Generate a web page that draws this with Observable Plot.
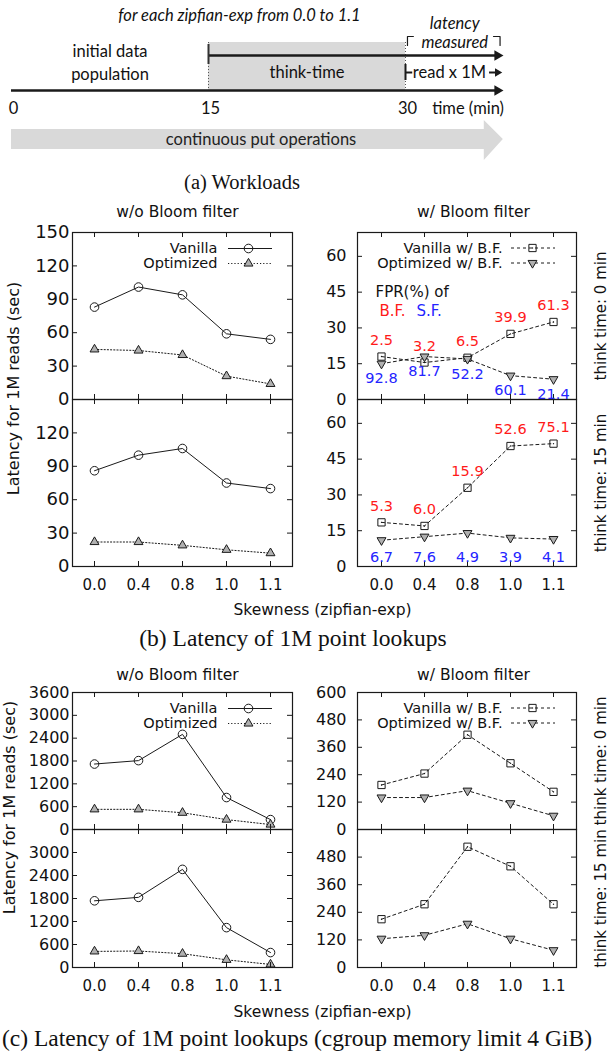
<!DOCTYPE html>
<html><head><meta charset="utf-8">
<script src="https://cdn.jsdelivr.net/npm/d3@7"></script>
<script src="https://cdn.jsdelivr.net/npm/@observablehq/plot@0.6"></script>
<style>
body{margin:0;background:#fff;}
#fig{position:relative;width:609px;height:1058px;overflow:hidden;font-family:"DejaVu Sans";background:#fff;}
.cap{position:absolute;font-family:"Liberation Serif";white-space:nowrap;transform:translate(-50%,-50%);color:#111;}
</style></head><body><div id="fig"></div>
<script>
// ---------- data ----------
const skew = ["0.0", "0.4", "0.8", "1.0", "1.1"];

// (b) Latency of 1M point lookups (sec)
const bNoBF0Vanilla = [83, 101, 94, 59, 54];
const bNoBF0Opt = [45, 44, 40, 21, 14];
const bNoBF15Vanilla = [86, 100, 106, 75, 70];
const bNoBF15Opt = [22, 22, 19, 15, 12];
const bBF0Vanilla = [18, 15.5, 17.5, 27.5, 32.5];
const bBF0Opt = [15, 18, 17, 10, 8.5];
const bBF15Vanilla = [18.5, 17, 33, 50.5, 51.5];
const bBF15Opt = [11, 12.5, 14, 12, 11.5];
const fprBF0 = ["2.5", "3.2", "6.5", "39.9", "61.3"];
const fprSF0 = ["92.8", "81.7", "52.2", "60.1", "21.4"];
const fprBF15 = ["5.3", "6.0", "15.9", "52.6", "75.1"];
const fprSF15 = ["6.7", "7.6", "4.9", "3.9", "4.1"];

// (c) cgroup memory limit 4 GiB (sec)
const cNoBF0Vanilla = [1720, 1810, 2500, 840, 260];
const cNoBF0Opt = [530, 530, 440, 260, 130];
const cNoBF15Vanilla = [1740, 1830, 2560, 1040, 390];
const cNoBF15Opt = [420, 430, 360, 200, 80];
const cBF0Vanilla = [195, 245, 415, 290, 165];
const cBF0Opt = [140, 140, 170, 115, 60];
const cBF15Vanilla = [210, 275, 525, 440, 275];
const cBF15Opt = [125, 140, 190, 125, 75];

// tick values
const ticksB0 = [0, 30, 60, 90, 120, 150];
const ticksB15 = [0, 30, 60, 90, 120];
const ticksBF = [0, 15, 30, 45, 60];
const ticksC0 = [0, 600, 1200, 1800, 2400, 3000, 3600];
const ticksC15 = [0, 600, 1200, 1800, 2400, 3000];
const ticksCBF0 = [0, 120, 240, 360, 480, 600];
const ticksCBF15 = [0, 120, 240, 360, 480];

// workload diagram (a)
const phases = [
  {name: "initial data\npopulation", start: 0, end: 15},
  {name: "think-time", start: 15, end: 30}
];
const timeTicks = [0, 15, 30];
const timeEnd = 37;      // arrow tip (beyond 30 min)
const measureEnd = 37.5;

// ---------- helpers ----------
const fig = document.getElementById("fig");
function place(el, left, top) {
  el.style.position = "absolute";
  el.style.left = left + "px";
  el.style.top = top + "px";
  fig.appendChild(el);
}
function rows(values, labels) {
  return skew.map((s, i) => ({skew: s, value: values[i], label: labels ? labels[i] : ""}));
}
const INK = "#1a1a1a";
const baseStyle = {overflow: "visible", background: "transparent", fontFamily: "DejaVu Sans", color: "#111"};

const colL = {left: 0, width: 300, mL: 72, mR: 8, tickPad: 3, legText: 145, legLineL: 156, legLineR: 20, legDot: 176};
const colR = {left: 300, width: 309, mL: 57, mR: 33, tickPad: 11, legText: 145, legLineL: 154, legLineR: 21, legDot: 175};

function panel(c) {
  const fw = c.width - c.mL - c.mR;
  const h = c.h;
  const V = rows(c.vanilla, c.fprBF);
  const O = rows(c.opt, c.fprSF);
  const dashV = c.bf ? "3,3" : null;
  const dashO = c.bf ? "3,3" : "1.2,2";
  const marks = [];
  marks.push(Plot.line(V, {x: "skew", y: "value", stroke: INK, strokeWidth: 1, strokeDasharray: dashV}));
  marks.push(Plot.line(O, {x: "skew", y: "value", stroke: INK, strokeWidth: 1, strokeDasharray: dashO}));
  const vMark = (data, extra = {}) => c.bf
    ? [Plot.dot(data, {symbol: "square", r: 4.1, stroke: INK, fill: "none", strokeWidth: 1, ...extra}),
       Plot.dot(data, {r: 0.7, fill: INK, stroke: "none", ...extra})]
    : [Plot.dot(data, {symbol: "circle", r: 4.3, stroke: INK, fill: "none", strokeWidth: 1, ...extra})];
  const oMark = (data, extra = {}) => [Plot.dot(data, {symbol: "triangle", rotate: c.bf ? 180 : 0, r: 3.3, stroke: INK, fill: "#b0b0b0", strokeWidth: 1, ...extra})];
  marks.push(...vMark(V, {x: "skew", y: "value"}));
  marks.push(...oMark(O, {x: "skew", y: "value"}));
  // frame and inward ticks
  marks.push(Plot.frame({stroke: INK, strokeWidth: 1.2}));
  marks.push(Plot.tickY(c.ticks, {insetRight: fw - 5, stroke: INK}));
  marks.push(Plot.tickY(c.ticks, {insetLeft: fw - 5, stroke: INK}));
  marks.push(Plot.tickX(skew, {insetTop: h - 5, stroke: INK}));
  marks.push(Plot.tickX(skew, {insetBottom: h - 5, stroke: INK}));
  marks.push(Plot.axisY(c.ticks, {tickSize: 0, tickPadding: c.tickPad, fontSize: c.tickFont, label: null, tickFormat: d => String(d)}));
  if (c.showX) {
    marks.push(Plot.axisX(skew, {tickSize: 0, tickPadding: 13, fontSize: 15, label: null}));
    if (c.skewLabel) marks.push(Plot.text(["Skewness (zipfian-exp)"], {frameAnchor: "bottom-left", dx: 250, dy: c.skewDy, textAnchor: "middle", lineAnchor: "middle", fontSize: 15.5}));
  }
  if (c.title) marks.push(Plot.text([c.title], {frameAnchor: "top-left", dx: c.titleDx, dy: c.titleDy, textAnchor: "middle", lineAnchor: "middle", fontSize: 15.5}));
  if (c.ylab) marks.push(Plot.text(["Latency for 1M reads (sec)"], {frameAnchor: "top-left", dx: c.ylab.dx, dy: c.ylab.dy, rotate: -90, textAnchor: "middle", lineAnchor: "middle", fontSize: 16}));
  if (c.think) marks.push(Plot.text([c.think], {frameAnchor: "right", dx: 25, rotate: -90, textAnchor: "middle", lineAnchor: "middle", fontSize: 15}));
  if (c.legend) {
    const names = c.bf ? ["Vanilla w/ B.F.", "Optimized w/ B.F."] : ["Vanilla", "Optimized"];
    const dys = c.bf ? [15.5, 30.5] : [16, 31];
    names.forEach((n, k) => {
      marks.push(Plot.text([n], {frameAnchor: "top-left", dx: c.legText, dy: dys[k], textAnchor: "end", lineAnchor: "middle", fontSize: 14.5}));
      marks.push(Plot.ruleY([0], {y: null, insetLeft: c.legLineL, insetRight: c.legLineR, dy: dys[k] - h / 2, stroke: INK, strokeWidth: 1, strokeDasharray: k === 0 ? dashV : dashO}));
      const extra = {frameAnchor: "top-left", dx: c.legDot, dy: dys[k]};
      marks.push(...(k === 0 ? vMark([0], extra) : oMark([0], extra)));
    });
  }
  if (c.fprLegend) {
    marks.push(Plot.text(["FPR(%) of"], {frameAnchor: "top-left", dx: 18, dy: 60, textAnchor: "start", lineAnchor: "middle", fontSize: 15}));
    marks.push(Plot.text(["B.F."], {frameAnchor: "top-left", dx: 22, dy: 79, textAnchor: "start", lineAnchor: "middle", fontSize: 15, fill: "#ff1a1a"}));
    marks.push(Plot.text(["S.F."], {frameAnchor: "top-left", dx: 59, dy: 79, textAnchor: "start", lineAnchor: "middle", fontSize: 15, fill: "#2424ff"}));
  }
  if (c.fprBF) {
    marks.push(Plot.text(V, {x: "skew", y: "value", text: "label", dy: -16.5, fill: "#ff1a1a", fontSize: 14.5, lineAnchor: "middle"}));
    if (c.sfBottom) marks.push(Plot.text(O, {x: "skew", frameAnchor: "bottom", text: "label", dy: -9, fill: "#2424ff", fontSize: 14.5, lineAnchor: "middle"}));
    else marks.push(Plot.text(O, {x: "skew", y: "value", text: "label", dy: 15, fill: "#2424ff", fontSize: 14.5, lineAnchor: "middle"}));
  }
  const svg = Plot.plot({
    width: c.width, height: h,
    marginTop: 0, marginBottom: 0, marginLeft: c.mL, marginRight: c.mR,
    x: {type: "point", domain: skew, padding: 0.5, axis: null, label: null},
    y: {domain: [0, c.yMax], axis: null, label: null},
    style: baseStyle,
    marks
  });
  place(svg, c.left, c.top);
}

// ---------- (a) workload diagram ----------
const row = {title: 15, latency: 31.5, bracketTop: 36, bracketBot: 45, shadeTop: 42, upper: 55, middle: 72, axis: 90, tickLabel: 108,
             putTop: 129, putBot: 149, putHeadTop: 120, putHeadBot: 160, putMid: 139};
const diagram = Plot.plot({
  width: 609, height: 170, marginTop: 0, marginBottom: 0, marginLeft: 11, marginRight: 204,
  x: {domain: [0, 30], axis: null},
  y: {domain: [0, 170], range: [0, 170], axis: null},
  style: {...baseStyle, fontFamily: "Lato"},
  marks: [
    Plot.rect(phases.slice(1), {x1: "start", x2: "end", y1: row.shadeTop, y2: row.axis, fill: "#d9d9d9"}),
    Plot.ruleX([15, 30], {y1: row.shadeTop, y2: row.axis, stroke: "#555", strokeDasharray: "1,2"}),
    Plot.areaY([
      {t: 0, a: row.putTop, b: row.putBot},
      {t: 36, a: row.putTop, b: row.putBot},
      {t: 36, a: row.putHeadTop, b: row.putHeadBot},
      {t: 37.45, a: row.putMid, b: row.putMid}
    ], {x: "t", y1: "a", y2: "b", fill: "#d9d9d9", curve: "linear"}),
    Plot.ruleY([row.axis], {x1: 0, x2: timeEnd, stroke: INK, strokeWidth: 2.6}),
    Plot.ruleY([row.upper], {x1: 15, x2: timeEnd, stroke: INK, strokeWidth: 2.6}),
    Plot.ruleX([15], {y1: row.shadeTop + 2, y2: row.upper + 9, stroke: "#333", strokeWidth: 2}),
    Plot.ruleX([30], {y1: row.middle - 8, y2: row.middle + 8, stroke: INK, strokeWidth: 2}),
    Plot.ruleY([row.middle], {x1: 30, x2: 30.55, stroke: INK, strokeWidth: 2}),
    Plot.ruleY([row.middle], {x1: 36.4, x2: timeEnd, stroke: INK, strokeWidth: 2}),
    Plot.dot([row.axis, row.upper], {x: timeEnd, y: d => d, symbol: "triangle", rotate: 90, r: 3.9, fill: INK, stroke: "none"}),
    Plot.dot([row.middle], {x: timeEnd, y: d => d, symbol: "triangle", rotate: 90, r: 3.1, fill: INK, stroke: "none"}),
    Plot.line([[30.15, row.bracketBot], [30.15, row.bracketTop], [30.6, row.bracketTop]], {stroke: INK, strokeWidth: 1.2}),
    Plot.line([[36.7, row.bracketTop], [37.2, row.bracketTop], [37.2, row.bracketBot]], {stroke: INK, strokeWidth: 1.2}),
    Plot.text(["for each zipfian-exp from 0.0 to 1.1"], {frameAnchor: "top-left", dx: 228, dy: row.title, fontStyle: "italic", fontSize: 16.5, textAnchor: "middle", lineAnchor: "middle", fill: "#111"}),
    Plot.text(["latency\nmeasured"], {x: (30 + measureEnd) / 2, y: row.latency, fontStyle: "italic", fontSize: 16.5, lineHeight: 1.18, textAnchor: "middle", lineAnchor: "middle", fill: "#111"}),
    Plot.text(phases.slice(0, 1), {x: d => (d.start + d.end) / 2, y: (row.upper + row.middle) / 2 - 3, text: "name", fontSize: 16.5, lineHeight: 1.42, lineAnchor: "middle", fill: "#111"}),
    Plot.text(phases.slice(1), {x: d => (d.start + d.end) / 2, y: row.middle, text: "name", fontSize: 16.5, lineAnchor: "middle", fill: "#111"}),
    Plot.text(["read x 1M"], {x: 33.35, y: row.middle, fontSize: 16.5, lineAnchor: "middle", fill: "#111"}),
    Plot.text(timeTicks, {x: d => d, y: row.tickLabel, text: d => String(d), dx: 2, fontSize: 16.5, lineAnchor: "middle", fill: "#111"}),
    Plot.text(["time (min)"], {x: measureEnd, y: row.tickLabel, textAnchor: "end", fontSize: 16.5, lineAnchor: "middle", fill: "#111"}),
    Plot.text(["continuous put operations"], {x: 19, y: row.putMid, fontSize: 16.5, lineAnchor: "middle", fill: "#222"})
  ]
});
place(diagram, 0, 0);

// ---------- (b) ----------
panel({...colL, top: 232, h: 167, yMax: 150, ticks: ticksB0, tickFont: 18, vanilla: bNoBF0Vanilla, opt: bNoBF0Opt, bf: false,
  legend: true, title: "w/o Bloom filter", titleDx: 105, titleDy: -20, ylab: {dx: -59, dy: 156}});
panel({...colL, top: 399, h: 167, yMax: 150, ticks: ticksB15, tickFont: 18, vanilla: bNoBF15Vanilla, opt: bNoBF15Opt, bf: false,
  showX: true, skewLabel: true, skewDy: 44});
panel({...colR, top: 232, h: 167, yMax: 70, ticks: ticksBF, tickFont: 16, vanilla: bBF0Vanilla, opt: bBF0Opt, bf: true,
  legend: true, title: "w/ Bloom filter", titleDx: 116, titleDy: -20, think: "think time: 0 min", fprBF: fprBF0, fprSF: fprSF0, fprLegend: true});
panel({...colR, top: 399, h: 167, yMax: 70, ticks: ticksBF, tickFont: 16, vanilla: bBF15Vanilla, opt: bBF15Opt, bf: true,
  showX: true, think: "think time: 15 min", fprBF: fprBF15, fprSF: fprSF15, sfBottom: true});

// ---------- (c) ----------
panel({...colL, top: 692, h: 137, yMax: 3600, ticks: ticksC0, tickFont: 16, vanilla: cNoBF0Vanilla, opt: cNoBF0Opt, bf: false,
  legend: true, title: "w/o Bloom filter", titleDx: 105, titleDy: -17, ylab: {dx: -63, dy: 115}});
panel({...colL, top: 829, h: 138, yMax: 3600, ticks: ticksC15, tickFont: 16, vanilla: cNoBF15Vanilla, opt: cNoBF15Opt, bf: false,
  showX: true, skewLabel: true, skewDy: 45});
panel({...colR, top: 692, h: 137, yMax: 600, ticks: ticksCBF0, tickFont: 16, vanilla: cBF0Vanilla, opt: cBF0Opt, bf: true,
  legend: true, title: "w/ Bloom filter", titleDx: 116, titleDy: -17, think: "think time: 0 min"});
panel({...colR, top: 829, h: 138, yMax: 600, ticks: ticksCBF15, tickFont: 16, vanilla: cBF15Vanilla, opt: cBF15Opt, bf: true,
  showX: true, think: "think time: 15 min"});

// ---------- captions ----------
function caption(text, cx, cy, size) {
  const d = document.createElement("div");
  d.className = "cap";
  d.textContent = text;
  d.style.left = cx + "px";
  d.style.top = cy + "px";
  d.style.fontSize = size + "px";
  fig.appendChild(d);
}
caption("(a) Workloads", 242, 182, 20.5);
caption("(b) Latency of 1M point lookups", 293, 638, 23.5);
caption("(c) Latency of 1M point lookups (cgroup memory limit 4 GiB)", 297, 1038, 23.5);
</script></body></html>
